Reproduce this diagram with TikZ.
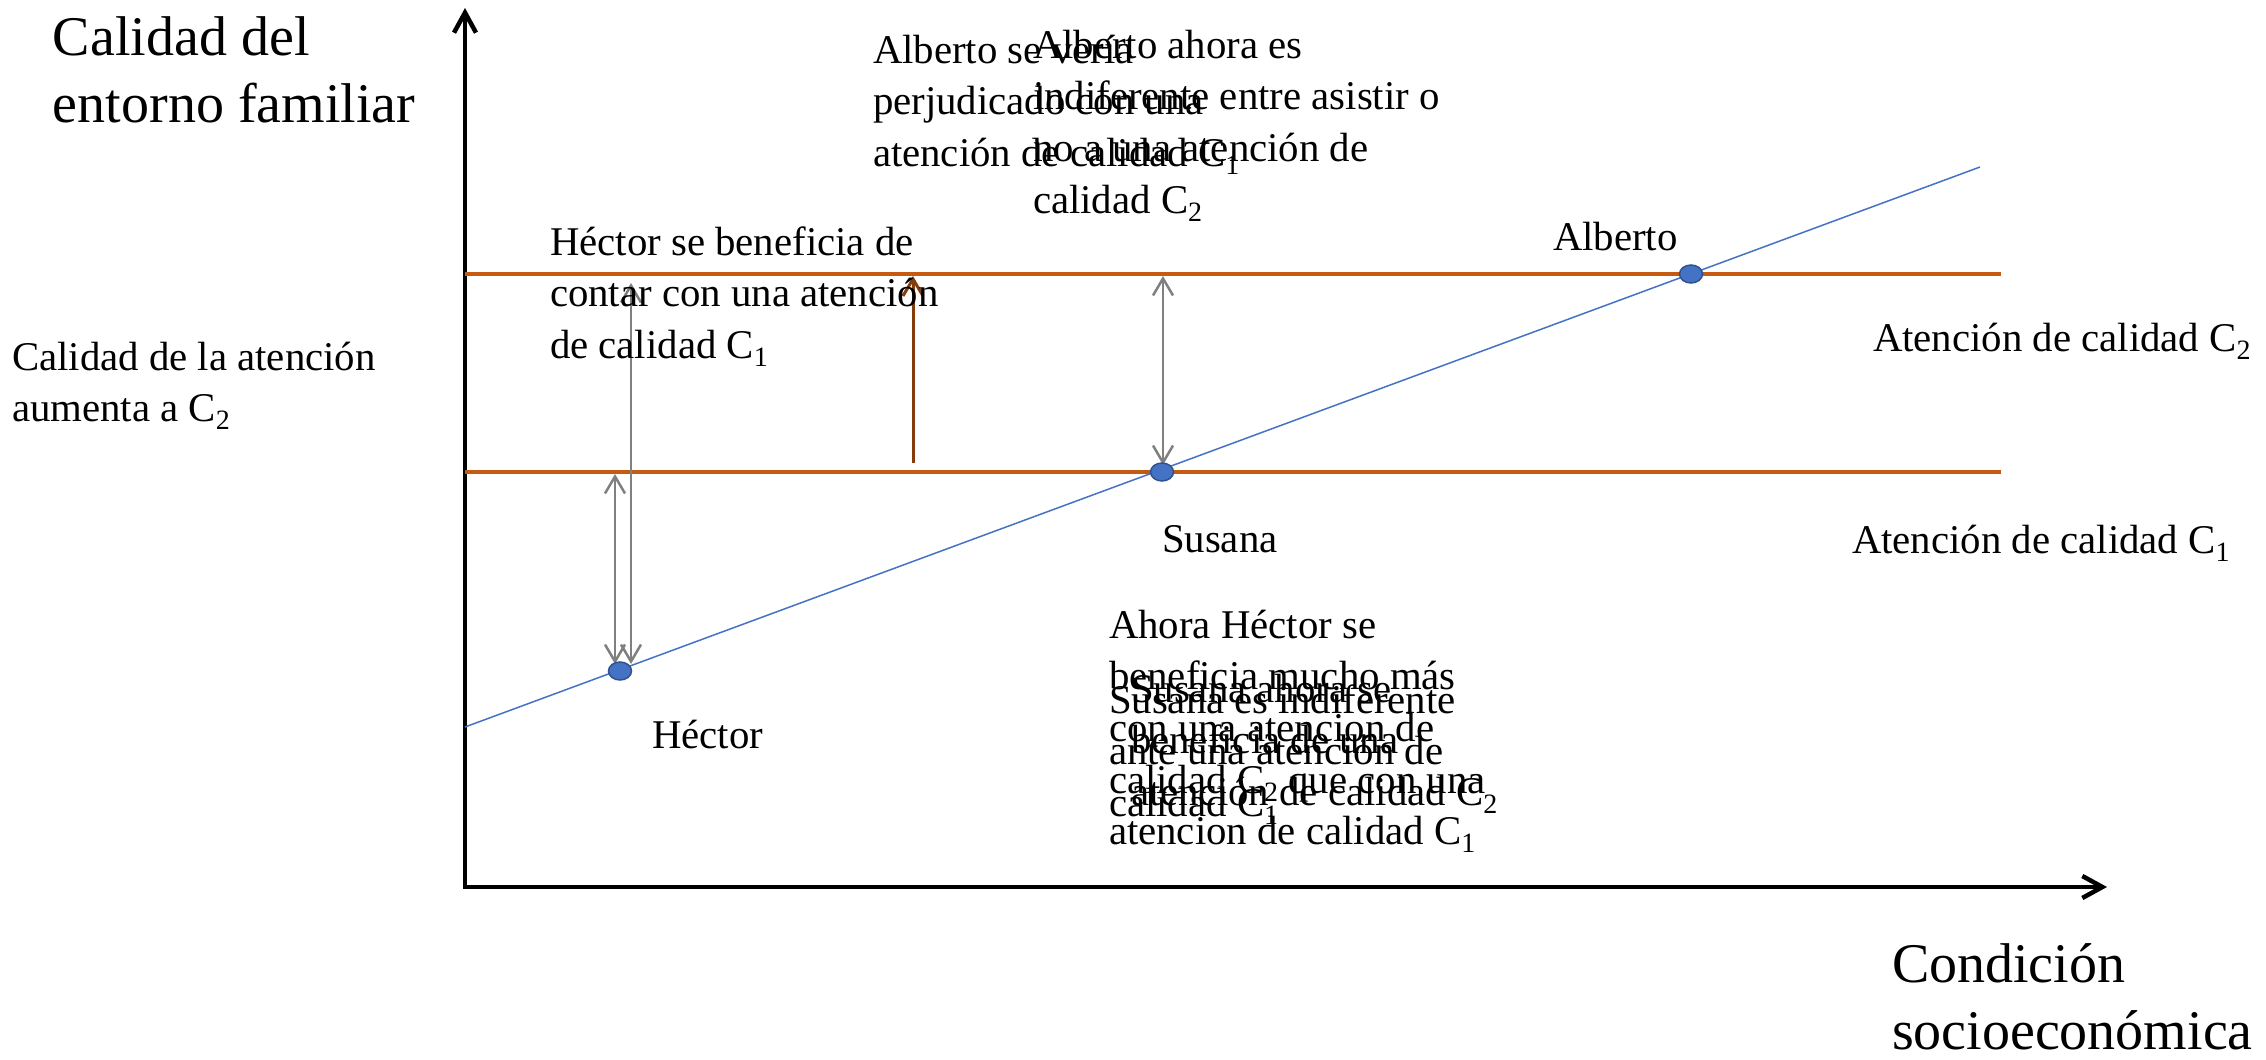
\documentclass[tikz,border=0pt]{standalone}
\usepackage{fontspec}
\setmainfont{Liberation Serif}
\usetikzlibrary{arrows.meta,shapes.geometric}
\definecolor{orgline}{RGB}{197,90,17}
\definecolor{brownarr}{RGB}{132,60,12}
\definecolor{blueline}{RGB}{68,114,196}
\definecolor{dotedge}{RGB}{47,82,143}
\definecolor{grayarr}{RGB}{128,128,128}
\newcommand\txtS{\fontsize{20.4}{25.85}\selectfont}
\newcommand\txtL{\fontsize{28}{33.5}\selectfont}
\newcommand\strS{\rule{0pt}{20.4pt}}
\newcommand\strL{\rule{0pt}{28pt}}
\newcommand\subq[1]{\raisebox{-0.2em}{\fontsize{14}{14}\selectfont #1}}
\begin{document}
\begin{tikzpicture}[x=0.5pt,y=-0.5pt,
  lbl/.style={anchor=north west,inner sep=0pt,outer sep=0pt,align=left,font=\txtS},
  lblL/.style={anchor=north west,inner sep=0pt,outer sep=0pt,align=left,font=\txtL},
  axisline/.style={line width=2.25pt,{Straight Barb[length=10pt,width=11pt]}-{Straight Barb[length=10pt,width=11pt]}},
  levelline/.style={orgline,line width=1.75pt},
  trendline/.style={blueline,line width=0.75pt},
  gaparrow/.style={grayarr,line width=1.25pt,{Straight Barb[length=8.5pt,width=10pt]}-{Straight Barb[length=8.5pt,width=10pt]}},
  risearrow/.style={brownarr,line width=1.5pt,-{Straight Barb[length=8.5pt,width=10pt]}},
  person/.style={ellipse,fill=blueline,draw=dotedge,line width=0.75pt,minimum width=11.5pt,minimum height=9pt,inner sep=0pt}
]
\useasboundingbox (0,0) rectangle (2266,1060);

% axes
\coordinate (O) at (465,887);
\coordinate (ytip) at (465,8);
\coordinate (xtip) at (2107,887);
\draw[axisline] (ytip) -- (O) -- (xtip);

% quality levels
\coordinate (c2a) at (465,274);
\coordinate (c2b) at (2001,274);
\coordinate (c1a) at (465,472);
\coordinate (c1b) at (2001,472);
\draw[levelline] (c2a) -- (c2b);
\draw[levelline] (c1a) -- (c1b);

% trend line
\coordinate (ta) at (465,727);
\coordinate (tb) at (1980,167);
\draw[trendline] (ta) -- (tb);

% arrows
\coordinate (h1t) at (615,474);
\coordinate (h1b) at (615,664);
\coordinate (h2t) at (631,283);
\coordinate (h2b) at (631,664);
\coordinate (st) at (1163,276);
\coordinate (sb) at (1163,465);
\coordinate (rb) at (913,463);
\coordinate (rt) at (913,276);
\draw[gaparrow] (h1t) -- (h1b);
\draw[gaparrow] (h2t) -- (h2b);
\draw[gaparrow] (st) -- (sb);
\draw[risearrow] (rb) -- (rt);

% people
\node[person] (hector) at (620,671) {};
\node[person] (susana) at (1162,472) {};
\node[person] (alberto) at (1691,274) {};

% axis labels
\node[lblL] (ylab) at (53,-1) {\strL Calidad del\\entorno familiar};
\node[lblL] (xlab) at (1892,926) {\strL Condición\\socioeconómica};

% labels
\node[lbl] (calatn) at (12,329.2) {\strS Calidad de la atención\\aumenta a C\subq{2}};
\node[lbl] (hbenef) at (550,214.2) {\strS Héctor se beneficia de\\contar con una atención\\de calidad C\subq{1}};
\node[lbl] (albperj) at (873,22.2) {\strS Alberto se vería\\perjudicado con una\\atención de calidad C\subq{1}};
\node[lbl] (albindif) at (1033,17.2) {\strS Alberto ahora es\\indiferente entre asistir o\\no a una atención de\\calidad C\subq{2}};
\node[lbl] (nalberto) at (1553,209.2) {\strS Alberto};
\node[lbl] (nsusana) at (1162,511.2) {\strS Susana};
\node[lbl] (nhector) at (652,707.2) {\strS Héctor};
\node[lbl] (atnc2) at (1873,310.2) {\strS Atención de calidad C\subq{2}};
\node[lbl] (atnc1) at (1852,512.2) {\strS Atención de calidad C\subq{1}};
\node[lbl] (ahorah) at (1109,597.2) {\strS Ahora Héctor se\\beneficia mucho más\\con una atencion de\\calidad C\subq{2} que con una\\atencion de calidad C\subq{1}};
\node[lbl] (susindif) at (1109,672.2) {\strS Susana es indiferente\\ante una atención de\\calidad C\subq{1}};
\node[lbl] (susahora) at (1131,661.2) {\strS Susana ahora se\\beneficia de una\\atención de calidad C\subq{2}};
\end{tikzpicture}
\end{document}
